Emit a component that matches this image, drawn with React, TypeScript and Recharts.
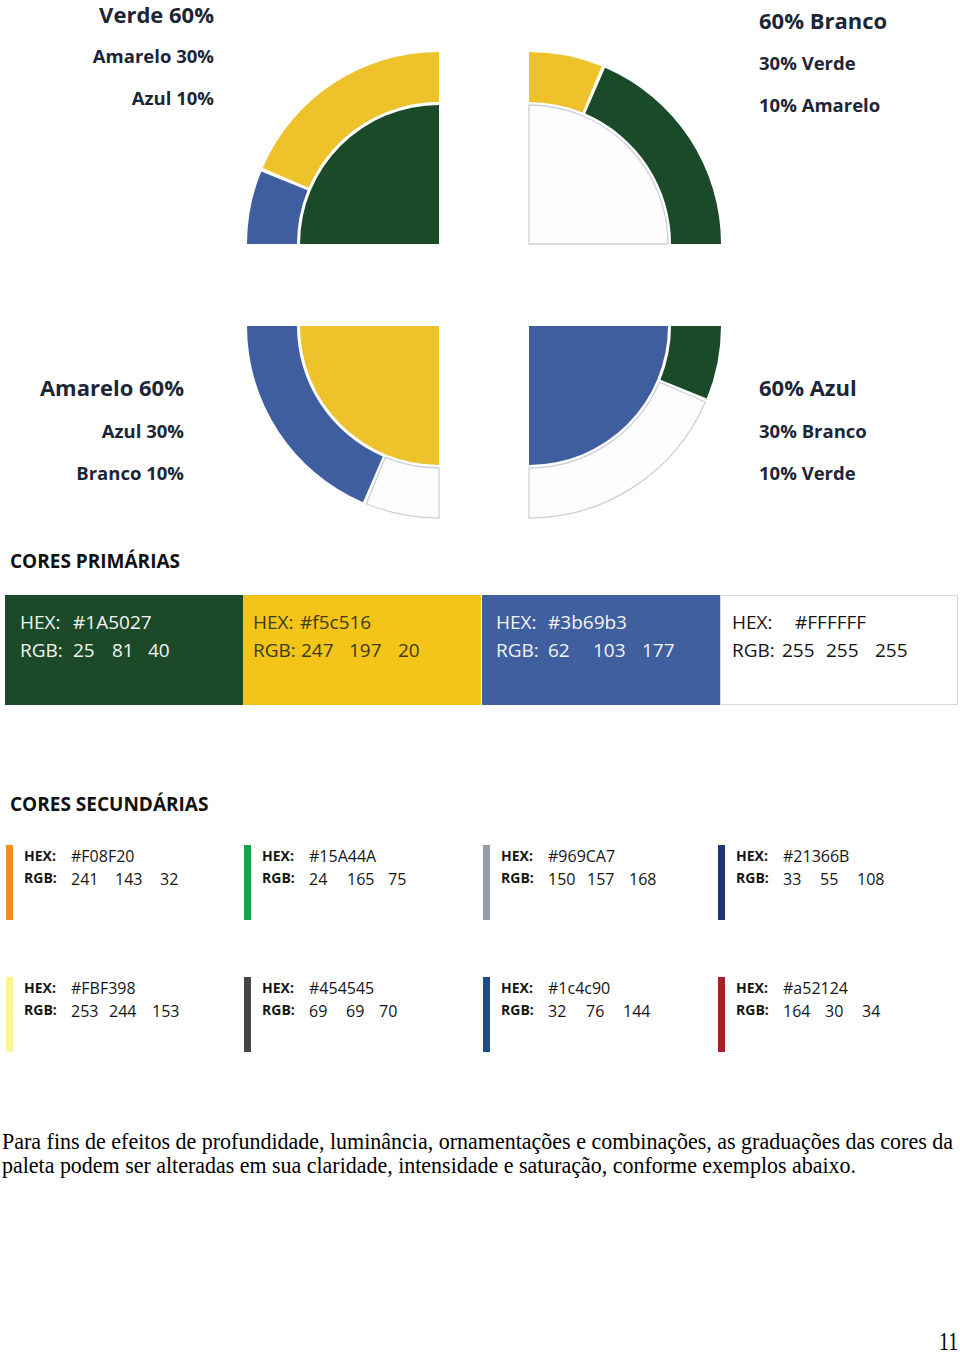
import { PieChart, Pie, Cell } from "recharts";

const FONT = '"Open Sans", "Noto Sans", sans-serif';
const INK = "#1c2636";

const GREEN = "#1b4a29";
const YELLOW = "#eec22b";
const BLUE = "#3e5e9f";
const WHITE = "#fdfdfd";
const EDGE = "#cdd1d8";

const swatch: Record<string, string> = { Verde: GREEN, Amarelo: YELLOW, Azul: BLUE, Branco: WHITE };

// 60 / 30 / 10 combinations (inner disc = 60, outer ring = 30 + 10)
const verdeInner = [{ name: "Verde", value: 60 }];
const verdeOuter = [{ name: "Amarelo", value: 30 }, { name: "Azul", value: 10 }];
const brancoInner = [{ name: "Branco", value: 60 }];
const brancoOuter = [{ name: "Amarelo", value: 10 }, { name: "Verde", value: 30 }];
const amareloInner = [{ name: "Amarelo", value: 60 }];
const amareloOuter = [{ name: "Azul", value: 30 }, { name: "Branco", value: 10 }];
const azulInner = [{ name: "Azul", value: 60 }];
const azulOuter = [{ name: "Verde", value: 10 }, { name: "Branco", value: 30 }];

const verdeLabels = ["Verde 60%", "Amarelo 30%", "Azul 10%"];
const brancoLabels = ["60% Branco", "30% Verde", "10% Amarelo"];
const amareloLabels = ["Amarelo 60%", "Azul 30%", "Branco 10%"];
const azulLabels = ["60% Azul", "30% Branco", "10% Verde"];

const primaryHex = ["#1A5027", "#f5c516", "#3b69b3", "#FFFFFF"];
const primaryRgb = [[25, 81, 40], [247, 197, 20], [62, 103, 177], [255, 255, 255]];

const secondaryHex = ["#F08F20", "#15A44A", "#969CA7", "#21366B", "#FBF398", "#454545", "#1c4c90", "#a52124"];
const secondaryRgb = [
  [241, 143, 32], [24, 165, 75], [150, 157, 168], [33, 55, 108],
  [253, 244, 153], [69, 69, 70], [32, 76, 144], [164, 30, 34],
];

const paragraph = [
  "Para fins de efeitos de profundidade, luminância, ornamentações e combinações, as graduações das cores da",
  "paleta podem ser alteradas em sua claridade, intensidade e saturação, conforme exemplos abaixo.",
];

// layout (positions only)
const primaryFill = ["#1c4a29", "#f4c518", "#3f5f9f", "#ffffff"];
const primaryInk = ["#f4f4f4", "#3a3a1e", "#f4f4f4", "#141414"];
const primaryLeft = [5, 243, 482, 720];
const primaryText = [
  { label: 15, hex: 68, rgb: [68, 107, 143] },
  { label: 10, hex: 57, rgb: [58, 106, 155] },
  { label: 14, hex: 66, rgb: [66, 111, 160] },
  { label: 12, hex: 75, rgb: [62, 106, 155] },
];
const secondaryBarLeft = [6, 244, 483, 718];
const secondaryRowTop = [845, 977];
const secondaryRgbOffset = [
  [0, 44, 89], [0, 38, 79], [0, 39, 81], [0, 37, 74],
  [0, 38, 81], [0, 37, 70], [0, 38, 75], [0, 42, 79],
];

function Txt({
  x, y, size, weight = 400, align = "left", color = INK, children,
}: {
  x: number; y: number; size: number; weight?: number; align?: "left" | "right"; color?: string; children: React.ReactNode;
}) {
  const style: React.CSSProperties = {
    position: "absolute",
    top: y - 0.53 * size,
    fontFamily: FONT,
    fontSize: size,
    fontWeight: weight,
    lineHeight: 1,
    color,
    whiteSpace: "pre",
  };
  if (align === "right") style.right = 960 - x;
  else style.left = x;
  return <div style={style}>{children}</div>;
}

function quadrant(
  key: string,
  inner: { name: string; value: number }[],
  outer: { name: string; value: number }[],
  cx: number,
  cy: number,
  startAngle: number,
  endAngle: number
) {
  const cellFor = (d: { name: string }, i: number) => (
    <Cell
      key={`${key}-${i}`}
      fill={swatch[d.name]}
      stroke={d.name === "Branco" ? EDGE : "none"}
      strokeWidth={d.name === "Branco" ? 1.3 : 0}
    />
  );
  return [
    <Pie
      key={`${key}-in`}
      data={inner}
      dataKey="value"
      cx={cx}
      cy={cy}
      innerRadius={0}
      outerRadius={139}
      startAngle={startAngle}
      endAngle={endAngle}
      isAnimationActive={false}
    >
      {inner.map(cellFor)}
    </Pie>,
    <Pie
      key={`${key}-out`}
      data={outer}
      dataKey="value"
      cx={cx}
      cy={cy}
      innerRadius={142}
      outerRadius={192}
      startAngle={startAngle}
      endAngle={endAngle}
      paddingAngle={1.1}
      isAnimationActive={false}
    >
      {outer.map(cellFor)}
    </Pie>,
  ];
}

export default function App() {
  const lab = (i: number) => ({ size: i === 0 ? 22 : 18.5, weight: i === 0 ? 700 : 700 });
  return (
    <div style={{ position: "absolute", left: 0, top: 0, width: 960, height: 1352, background: "#fff", overflow: "hidden" }}>
      <div style={{ position: "absolute", left: 0, top: 0 }}>
        <PieChart width={960} height={530} margin={{ top: 0, right: 0, bottom: 0, left: 0 }}>
          {quadrant("tl", verdeInner, verdeOuter, 439, 244, 90, 180)}
          {quadrant("tr", brancoInner, brancoOuter, 529, 244, 90, 0)}
          {quadrant("bl", amareloInner, amareloOuter, 439, 326, 180, 270)}
          {quadrant("br", azulInner, azulOuter, 529, 326, 0, -90)}
        </PieChart>
      </div>

      {/* quadrant captions */}
      {verdeLabels.map((t, i) => (
        <Txt key={t} x={214} y={[15, 57, 99][i]} {...lab(i)} align="right">{t}</Txt>
      ))}
      {brancoLabels.map((t, i) => (
        <Txt key={t} x={759} y={[21, 64, 106][i]} {...lab(i)}>{t}</Txt>
      ))}
      {amareloLabels.map((t, i) => (
        <Txt key={t} x={184} y={[388, 432, 474][i]} {...lab(i)} align="right">{t}</Txt>
      ))}
      {azulLabels.map((t, i) => (
        <Txt key={t} x={759} y={[388, 432, 474][i]} {...lab(i)}>{t}</Txt>
      ))}

      {/* primary colours */}
      <Txt x={10} y={562} size={19} weight={700} color="#111">CORES PRIMÁRIAS</Txt>
      {primaryHex.map((hex, i) => {
        const left = primaryLeft[i];
        const lay = primaryText[i];
        return (
          <div key={hex}>
            <div
              style={{
                position: "absolute",
                left,
                top: 595,
                width: 238,
                height: 110,
                background: primaryFill[i],
                boxSizing: "border-box",
                border: i === 3 ? "1px solid #d9d9d9" : "none",
              }}
            />
            <Txt x={left + lay.label} y={623} size={19} color={primaryInk[i]}>HEX:</Txt>
            <Txt x={left + lay.hex} y={623} size={19} color={primaryInk[i]}>{hex}</Txt>
            <Txt x={left + lay.label} y={651} size={19} color={primaryInk[i]}>RGB:</Txt>
            {primaryRgb[i].map((v, j) => (
              <Txt key={j} x={left + lay.rgb[j]} y={651} size={19} color={primaryInk[i]}>{String(v)}</Txt>
            ))}
          </div>
        );
      })}

      {/* secondary colours */}
      <Txt x={10} y={805} size={19} weight={700} color="#111">CORES SECUNDÁRIAS</Txt>
      {secondaryHex.map((hex, i) => {
        const bar = secondaryBarLeft[i % 4];
        const top = secondaryRowTop[Math.floor(i / 4)];
        const label = bar + 18;
        const val = label + 47;
        return (
          <div key={hex}>
            <div style={{ position: "absolute", left: bar, top, width: 7, height: 75, background: hex }} />
            <Txt x={label} y={top + 11} size={14} weight={700} color="#151515">HEX:</Txt>
            <Txt x={val} y={top + 11} size={16} color="#151515">{hex}</Txt>
            <Txt x={label} y={top + 33} size={14} weight={700} color="#151515">RGB:</Txt>
            {secondaryRgb[i].map((v, j) => (
              <Txt key={j} x={val + secondaryRgbOffset[i][j]} y={top + 34} size={16} color="#151515">{String(v)}</Txt>
            ))}
          </div>
        );
      })}

      {/* footnote */}
      <svg width={960} height={232} style={{ position: "absolute", left: 0, top: 1120 }}>
        <text x={2} y={29} fontFamily='"Liberation Serif", "Times New Roman", serif' fontSize={24} textLength={951} lengthAdjust="spacingAndGlyphs" fill="#000">
          {paragraph[0]}
        </text>
        <text x={2} y={53} fontFamily='"Liberation Serif", "Times New Roman", serif' fontSize={24} textLength={854} lengthAdjust="spacingAndGlyphs" fill="#000">
          {paragraph[1]}
        </text>
        <text x={939} y={230} fontFamily='"Liberation Serif", "Times New Roman", serif' fontSize={25} textLength={19} lengthAdjust="spacingAndGlyphs" fill="#000">
          11
        </text>
      </svg>
    </div>
  );
}
